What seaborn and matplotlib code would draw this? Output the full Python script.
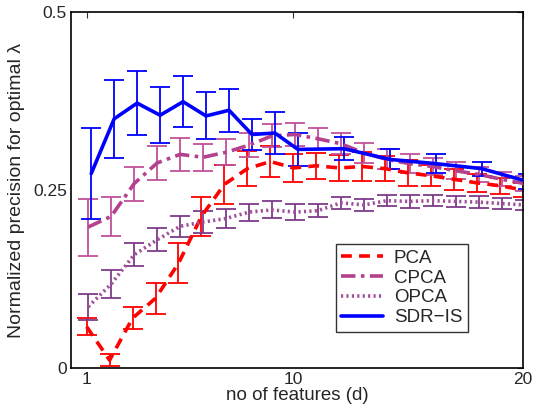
import numpy as np
import pandas as pd
import matplotlib
matplotlib.use("Agg")
import matplotlib.pyplot as plt
import seaborn as sns

# values
d_all = np.arange(1, 21)

pca = [0.058, 0.011, 0.070, 0.098, 0.147, 0.213, 0.258, 0.280, 0.290, 0.281,
       0.284, 0.281, 0.283, 0.280, 0.274, 0.270, 0.265, 0.260, 0.256, 0.250]
pca_err = [0.012, 0.008, 0.015, 0.022, 0.028, 0.027, 0.027, 0.025, 0.022, 0.020,
           0.018, 0.018, 0.020, 0.018, 0.018, 0.015, 0.015, 0.013, 0.011, 0.010]

cpca = [0.198, 0.213, 0.259, 0.288, 0.300, 0.296, 0.303, 0.313, 0.326, 0.328,
        0.322, 0.315, 0.302, 0.293, 0.287, 0.283, 0.277, 0.272, 0.265, 0.259]
cpca_err = [0.040, 0.027, 0.024, 0.024, 0.023, 0.019, 0.018, 0.017, 0.016, 0.016,
            0.015, 0.015, 0.014, 0.014, 0.013, 0.012, 0.012, 0.011, 0.010, 0.010]

opca = [0.086, 0.118, 0.159, 0.180, 0.199, 0.205, 0.210, 0.219, 0.222, 0.219,
        0.221, 0.232, 0.229, 0.235, 0.234, 0.235, 0.234, 0.233, 0.231, 0.229]
opca_err = [0.018, 0.020, 0.016, 0.016, 0.015, 0.016, 0.013, 0.012, 0.012, 0.011,
            0.009, 0.008, 0.008, 0.008, 0.009, 0.008, 0.008, 0.008, 0.008, 0.007]

d_sdr = [1, 2, 3, 4, 5, 6, 7, 8, 9, 10, 12, 14, 16, 18, 20]
sdr = [0.273, 0.350, 0.372, 0.355, 0.374, 0.354, 0.362, 0.328, 0.330, 0.307,
       0.308, 0.293, 0.287, 0.280, 0.262]
sdr_err = [0.064, 0.055, 0.045, 0.039, 0.036, 0.033, 0.030, 0.022, 0.029, 0.023,
           0.016, 0.014, 0.013, 0.010, 0.010]

sns.set_style("white")
plt.rcParams['font.family'] = ['Liberation Sans', 'DejaVu Sans']

fig = plt.figure(figsize=(5.49, 4.12), dpi=100)
ax = fig.add_axes([71/549, 1 - 368/412, 452/549, 356/412])

series = [
    ("PCA", d_all, pca, pca_err, 0.0, "#ff0000", (0, (3, 2)), "#ff0000"),
    ("CPCA", d_all, cpca, cpca_err, 0.07, "#b3418e", (0, (4, 1.5, 1, 1.5)), "#c0509a"),
    ("OPCA", d_all, opca, opca_err, 0.07, "#a0509a", (0, (0.6, 0.9)), "#7e3b8a"),
    ("SDR\u2212IS", d_sdr, sdr, sdr_err, 0.2, "#0000ff", "-", "#0000ff"),
]

for name, xs, ys, es, off, col, ls, ecol in series:
    x = np.asarray(xs, dtype=float) + off
    df = pd.DataFrame({"d": x, "v": ys})
    ax.errorbar(x, ys, yerr=es, fmt="none", ecolor=ecol, elinewidth=1.3,
                capsize=7, capthick=1.3, zorder=2)
    sns.lineplot(data=df, x="d", y="v", ax=ax, color=col, linewidth=2.6,
                 linestyle=ls, label=name, zorder=3)

ax.set_xlim(0.32, 20)
ax.set_ylim(0, 0.5)
ax.set_xticks([1, 10, 20])
ax.set_xticklabels(["1", "10", "20"])
ax.set_yticks([0, 0.25, 0.5])
ax.set_yticklabels(["0", "0.25", "0.5"])
ax.tick_params(direction="in", top=True, right=True, length=4, width=0.8,
               labelsize=12.5, color="#333333", pad=3)
for s in ax.spines.values():
    s.set_linewidth(1.2)
    s.set_color("black")

ax.set_xlabel("no of features (d)", fontsize=13.5, labelpad=0)
ax.set_ylabel("Normalized precision for optimal \u03bb", fontsize=14, labelpad=6)

leg = ax.legend(loc="lower left", bbox_to_anchor=(0.586, 0.101), fontsize=13.5,
                frameon=True, fancybox=False, handlelength=2.2, borderpad=0.3,
                labelspacing=0.15, borderaxespad=0, handletextpad=0.6)
leg.get_frame().set_edgecolor("black")
leg.get_frame().set_linewidth(1.0)

fig.savefig("out.png", dpi=100)
